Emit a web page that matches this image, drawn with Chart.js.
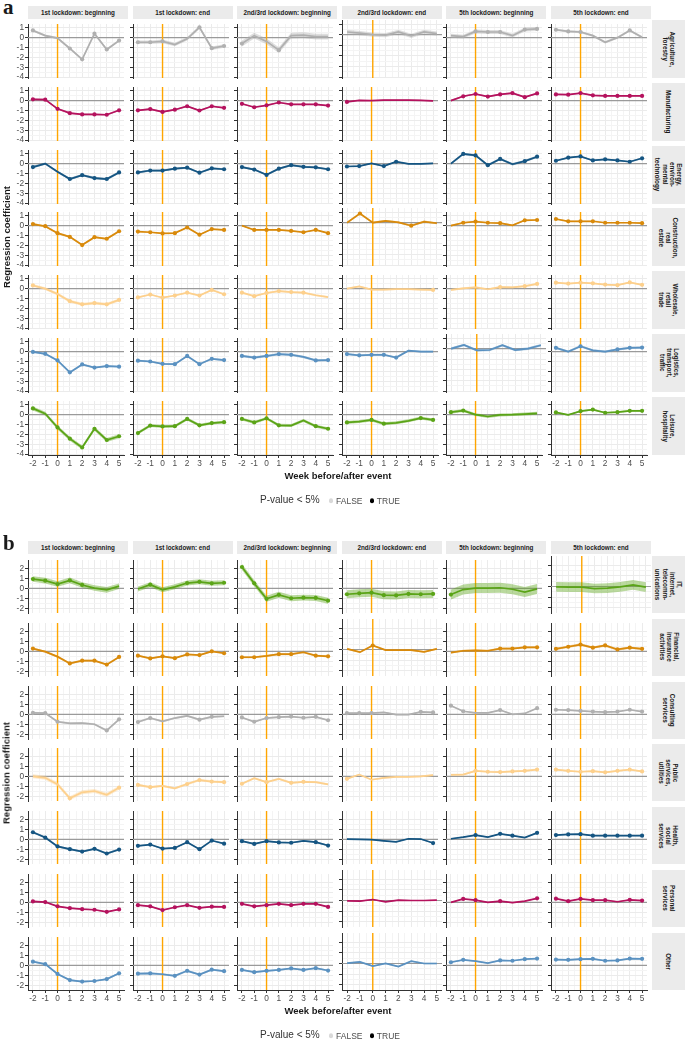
<!DOCTYPE html>
<html>
<head>
<meta charset="utf-8">
<script src="https://cdn.jsdelivr.net/npm/chart.js@4.4.1/dist/chart.umd.min.js"></script>
<style>
  body { margin: 0; background: #fff; font-family: "Liberation Sans", Arial, sans-serif; }
  #page { position: relative; width: 685px; height: 1043px; overflow: hidden; }
  .cell { position: absolute; }
  .strip { position: absolute; background: #ebebeb; color: #1a1a1a; font-size: 6.3px; font-weight: bold;
           display: flex; align-items: center; justify-content: center; text-align: center; line-height: 1.15; }
  .rstrip span { transform: rotate(90deg); white-space: nowrap; display: block; }
  .txt { position: absolute; white-space: nowrap; color: #1a1a1a; }
  .ytitle { font-weight: bold; font-size: 9.5px; transform: translate(-50%, -50%) rotate(-90deg); }
  .xtitle { font-weight: bold; font-size: 9.5px; transform: translate(-50%, -50%); }
  .tag { font-family: "Liberation Serif", "DejaVu Serif", serif; font-weight: bold; font-size: 21px; line-height: 1; }
  .legend { font-size: 10px; color: #333; transform: translateY(-50%); }
  .legend .dot { display: inline-block; width: 4.5px; height: 4.5px; border-radius: 50%; vertical-align: middle; }
  .legend .lab { font-size: 8.5px; color: #4d4d4d; vertical-align: middle; }
</style>
</head>
<body>
<div id="page"></div>
<script>
//==============================Data============================

const weeks = [-2, -1, 0, 1, 2, 3, 4, 5];
const periods = ["1st lockdown: beginning", "1st lockdown: end", "2nd/3rd lockdown: beginning",
                 "2nd/3rd lockdown: end", "5th lockdown: beginning", "5th lockdown: end"];
const yTicksA = [-4, -3, -2, -1, 0, 1];
const yTicksB = [-2, -1, 0, 1, 2];

// panel a, one row per sector, one line of 8 weeks per period
const agriculture = [
  [0.73, 0.2, -0.05, -1.1, -2.2, 0.4, -1.2, -0.3],
  [-0.47, -0.47, -0.38, -0.7, -0.12, 1.05, -1.07, -0.85],
  [-0.6, 0.2, -0.38, -1.27, 0.2, 0.25, 0.1, 0.1],
  [0.25, 0.15, 0.0, -0.05, 0.25, -0.12, 0.25, 0.1],
  [0.2, 0.1, 0.63, 0.57, 0.57, 0.2, 0.82, 0.88],
  [0.8, 0.63, 0.57, 0.2, -0.47, 0.0, 0.73, 0.03]];
const agricultureSig = ["10011111", "11100111", "10010000", "00000000", "00111011", "11100010"];
const agricultureCI = [0.12, 0.18, 0.3, 0.2, 0.2, 0.12];

const manufacturing = [
  [0.13, 0.1, -0.83, -1.27, -1.4, -1.4, -1.43, -0.98],
  [-0.98, -0.86, -1.14, -0.92, -0.57, -1.0, -0.57, -0.73],
  [-0.32, -0.67, -0.48, -0.19, -0.38, -0.38, -0.38, -0.5],
  [-0.13, 0.03, 0.0, 0.06, 0.06, 0.06, 0.03, -0.03],
  [0.0, 0.44, 0.67, 0.41, 0.63, 0.76, 0.35, 0.73],
  [0.63, 0.6, 0.76, 0.54, 0.48, 0.48, 0.48, 0.48]];
const manufacturingSig = ["11111111", "11111111", "11111111", "10000000", "01111111", "11111111"];
const manufacturingCI = [0.08, 0.08, 0.06, 0.05, 0.08, 0.06];

const energy = [
  [-0.35, 0.0, -0.83, -1.56, -1.17, -1.46, -1.56, -0.89],
  [-0.89, -0.7, -0.7, -0.51, -0.41, -0.92, -0.48, -0.57],
  [-0.35, -0.6, -1.14, -0.51, -0.16, -0.32, -0.38, -0.57],
  [-0.29, -0.25, 0.03, -0.25, 0.19, -0.03, -0.03, 0.03],
  [0.0, 0.98, 0.83, -0.16, 0.48, -0.06, 0.25, 0.7],
  [0.29, 0.6, 0.73, 0.32, 0.44, 0.32, 0.19, 0.54]];
const energySig = ["10011111", "11111111", "11111111", "11011000", "01111011", "11111111"];
const energyCI = [0.12, 0.1, 0.1, 0.06, 0.12, 0.08];

const construction = [
  [0.16, -0.06, -0.76, -1.14, -1.97, -1.17, -1.33, -0.57],
  [-0.6, -0.67, -0.79, -0.76, -0.19, -0.92, -0.35, -0.44],
  [0.0, -0.44, -0.44, -0.44, -0.54, -0.67, -0.44, -0.76],
  [0.0, 0.86, 0.0, 0.16, 0.03, -0.29, 0.1, -0.06],
  [0.0, 0.29, 0.41, 0.29, 0.25, 0.03, 0.54, 0.57],
  [0.67, 0.44, 0.44, 0.44, 0.29, 0.29, 0.29, 0.25]];
const constructionSig = ["11111111", "11111111", "01111111", "01000100", "01111011", "11111111"];
const constructionCI = [0.1, 0.06, 0.06, 0.1, 0.08, 0.06];

const wholesale = [
  [0.32, 0.0, -0.54, -1.27, -1.59, -1.46, -1.59, -1.14],
  [-0.89, -0.6, -0.92, -0.7, -0.41, -0.7, -0.13, -0.57],
  [-0.41, -0.76, -0.44, -0.25, -0.35, -0.41, -0.67, -0.86],
  [0.0, 0.22, -0.1, -0.1, -0.06, -0.06, -0.1, -0.13],
  [-0.13, 0.03, 0.13, -0.06, 0.16, 0.13, 0.25, 0.48],
  [0.6, 0.51, 0.6, 0.54, 0.41, 0.35, 0.63, 0.38]];
const wholesaleSig = ["10011111", "11111111", "11111100", "00000001", "00001011", "11111111"];
const wholesaleCI = [0.15, 0.08, 0.1, 0.08, 0.1, 0.08];

const logistics = [
  [-0.03, -0.22, -0.89, -2.1, -1.3, -1.62, -1.46, -1.52],
  [-0.92, -1.0, -1.24, -1.27, -0.44, -1.27, -0.73, -0.86],
  [-0.44, -0.6, -0.44, -0.25, -0.32, -0.54, -0.89, -0.86],
  [-0.25, -0.38, -0.32, -0.32, -0.6, 0.1, 0.0, 0.0],
  [0.0, 0.35, -0.16, -0.13, 0.32, -0.13, 0.0, 0.32],
  [0.38, 0.0, 0.54, 0.13, 0.0, 0.22, 0.38, 0.41]];
const logisticsSig = ["11111111", "11111111", "11111011", "11111000", "00000000", "10100111"];
const logisticsCI = [0.1, 0.1, 0.12, 0.1, 0.12, 0.12];

const leisure = [
  [0.63, 0.1, -1.3, -2.44, -3.33, -1.43, -2.57, -2.19],
  [-1.87, -1.11, -1.2, -1.17, -0.44, -1.08, -0.86, -0.76],
  [-0.44, -0.79, -0.38, -1.08, -1.11, -0.6, -1.17, -1.43],
  [-0.79, -0.7, -0.54, -0.92, -0.83, -0.63, -0.35, -0.54],
  [0.25, 0.41, 0.0, -0.19, -0.03, 0.0, 0.06, 0.13],
  [0.22, -0.03, 0.35, 0.51, 0.19, 0.25, 0.38, 0.38]];
const leisureSig = ["10111111", "11111111", "11110011", "10110011", "11000000", "10111111"];
const leisureCI = [0.2, 0.15, 0.15, 0.15, 0.15, 0.08];

// panel b
const itTelecom = [
  [0.93, 0.77, 0.43, 0.8, 0.34, 0.03, -0.15, 0.22],
  [-0.06, 0.37, -0.15, 0.15, 0.53, 0.65, 0.5, 0.56],
  [2.14, 0.5, -1.05, -0.65, -0.99, -0.93, -0.96, -1.24],
  [-0.59, -0.5, -0.43, -0.68, -0.71, -0.56, -0.59, -0.56],
  [-0.62, -0.12, 0.03, 0.03, 0.06, -0.09, -0.37, -0.06],
  [-0.03, -0.06, -0.06, -0.19, -0.15, -0.03, 0.15, -0.06]];
const itTelecomSig = ["11111000", "01001111", "11111111", "11111111", "10000000", "00000000"];
const itTelecomCI = [0.28, 0.25, 0.3, 0.4, 0.5, 0.45];

const financial = [
  [0.28, -0.03, -0.53, -1.21, -0.93, -0.93, -1.33, -0.56],
  [-0.43, -0.71, -0.5, -0.68, -0.31, -0.37, 0.0, -0.19],
  [-0.59, -0.59, -0.46, -0.28, -0.28, -0.09, -0.43, -0.5],
  [0.06, -0.25, 0.37, -0.06, -0.06, -0.06, -0.22, 0.06],
  [-0.12, 0.06, 0.09, 0.06, 0.28, 0.28, 0.4, 0.4],
  [0.25, 0.46, 0.68, 0.37, 0.59, 0.19, 0.37, 0.25]];
const financialSig = ["10011111", "11111111", "11011011", "00100000", "00001111", "11111111"];
const financialCI = [0.1, 0.08, 0.1, 0.08, 0.1, 0.12];

const consulting = [
  [0.15, 0.12, -0.74, -0.9, -0.87, -0.99, -1.61, -0.5],
  [-0.77, -0.37, -0.71, -0.37, -0.15, -0.53, -0.25, -0.19],
  [-0.31, -0.74, -0.37, -0.28, -0.22, -0.34, -0.25, -0.59],
  [0.12, 0.12, 0.12, 0.19, -0.03, -0.03, 0.25, 0.19],
  [0.87, 0.31, 0.15, 0.15, 0.43, 0.0, 0.09, 0.62],
  [0.46, 0.43, 0.34, 0.28, 0.22, 0.28, 0.46, 0.28]];
const consultingSig = ["11100011", "11000110", "11111111", "11100011", "11001001", "11111111"];
const consultingCI = [0.1, 0.1, 0.08, 0.06, 0.06, 0.06];

const publicServices = [
  [0.0, -0.15, -0.8, -2.2, -1.6, -1.47, -1.84, -1.13],
  [-0.86, -1.08, -0.95, -1.2, -0.77, -0.37, -0.52, -0.58],
  [-0.74, -0.18, -0.58, -0.25, -0.65, -0.55, -0.58, -0.8],
  [-0.25, 0.18, -0.34, -0.15, -0.06, -0.06, 0.0, 0.12],
  [0.15, 0.18, 0.55, 0.46, 0.43, 0.49, 0.55, 0.68],
  [0.68, 0.55, 0.46, 0.52, 0.4, 0.55, 0.68, 0.49]];
const publicServicesSig = ["00010001", "11001111", "10101100", "10000000", "00111111", "11111111"];
const publicServicesCI = [0.2, 0.12, 0.1, 0.08, 0.1, 0.08];

const health = [
  [0.71, 0.18, -0.71, -0.98, -1.23, -0.95, -1.42, -1.02],
  [-0.65, -0.52, -0.92, -0.86, -0.28, -0.98, -0.12, -0.43],
  [-0.18, -0.46, -0.18, -0.31, -0.34, -0.15, -0.28, -0.62],
  [0.03, 0.0, -0.03, -0.15, -0.25, 0.06, 0.03, -0.37],
  [0.06, 0.22, 0.43, 0.22, 0.55, 0.37, 0.18, 0.65],
  [0.43, 0.49, 0.52, 0.37, 0.37, 0.37, 0.37, 0.37]];
const healthSig = ["11111111", "11111111", "11111011", "00000001", "00101101", "11111111"];
const healthCI = [0.1, 0.06, 0.08, 0.06, 0.06, 0.06];

const personal = [
  [0.09, 0.03, -0.4, -0.58, -0.68, -0.74, -0.95, -0.71],
  [-0.28, -0.4, -0.77, -0.49, -0.28, -0.55, -0.43, -0.46],
  [-0.15, -0.4, -0.28, -0.15, -0.28, -0.15, -0.15, -0.46],
  [-0.03, -0.06, 0.09, -0.12, 0.03, 0.0, 0.0, 0.03],
  [0.0, 0.34, 0.22, 0.0, 0.12, -0.03, 0.12, 0.4],
  [0.37, 0.12, 0.34, 0.22, 0.22, 0.06, 0.25, 0.18]];
const personalSig = ["11111111", "11111111", "11111111", "00000000", "01101001", "11111011"];
const personalCI = [0.06, 0.06, 0.06, 0.05, 0.05, 0.05];

const other = [
  [0.37, 0.12, -0.86, -1.48, -1.63, -1.57, -1.38, -0.8],
  [-0.83, -0.8, -0.89, -1.05, -0.55, -0.92, -0.43, -0.58],
  [-0.46, -0.68, -0.55, -0.46, -0.31, -0.46, -0.28, -0.52],
  [0.03, 0.15, -0.25, 0.0, -0.28, 0.22, 0.0, 0.0],
  [0.31, 0.55, 0.43, 0.22, 0.49, 0.46, 0.62, 0.68],
  [0.58, 0.55, 0.62, 0.65, 0.46, 0.49, 0.68, 0.65]];
const otherSig = ["11111111", "11011111", "11111111", "00000000", "11001111", "11111111"];
const otherCI = [0.08, 0.1, 0.08, 0.06, 0.06, 0.08];

//==============================Colours============================

const GREY = "#b0b0b0", MAGENTA = "#b5125e", NAVY = "#155582", OCHRE = "#d98a0b",
      PEACH = "#fdd08c", STEEL = "#5b92c1", GREEN = "#5ba417";

const rowsA = [
  { label: "Agriculture,\nforestry", color: GREY, coef: agriculture, sig: agricultureSig, ci: agricultureCI },
  { label: "Manufacturing", color: MAGENTA, coef: manufacturing, sig: manufacturingSig, ci: manufacturingCI },
  { label: "Energy,\nenviron-\nmental\ntechnology", color: NAVY, coef: energy, sig: energySig, ci: energyCI },
  { label: "Construction,\nreal\nestate", color: OCHRE, coef: construction, sig: constructionSig, ci: constructionCI },
  { label: "Wholesale,\nretail\ntrade", color: PEACH, coef: wholesale, sig: wholesaleSig, ci: wholesaleCI },
  { label: "Logistics,\ntransport,\ntraffic", color: STEEL, coef: logistics, sig: logisticsSig, ci: logisticsCI },
  { label: "Leisure,\nhospitality", color: GREEN, coef: leisure, sig: leisureSig, ci: leisureCI }
];
const rowsB = [
  { label: "IT,\ninternet,\ntelecomm-\nunications", color: GREEN, coef: itTelecom, sig: itTelecomSig, ci: itTelecomCI },
  { label: "Financial,\ninsurance\nactivities", color: OCHRE, coef: financial, sig: financialSig, ci: financialCI },
  { label: "Consulting\nservices", color: GREY, coef: consulting, sig: consultingSig, ci: consultingCI },
  { label: "Public\nservices,\nutilities", color: PEACH, coef: publicServices, sig: publicServicesSig, ci: publicServicesCI },
  { label: "Health,\nsocial\nservices", color: NAVY, coef: health, sig: healthSig, ci: healthCI },
  { label: "Personal\nservices", color: MAGENTA, coef: personal, sig: personalSig, ci: personalCI },
  { label: "Other", color: STEEL, coef: other, sig: otherSig, ci: otherCI }
];

//==============================Layout============================

const page = document.getElementById("page");
const PADL = 22, PADB = 15, PLOT_W = 100, ROW_STEP = 62.83;
const colLeft = c => 28 + c * 104.6;

// majors plus the midpoints between them (minor grid)
const withHalves = arr => arr.flatMap((v, i) => i ? [(arr[i - 1] + v) / 2, v] : [v]);

function addDiv(cls, html, css) {
  const d = document.createElement("div");
  d.className = cls;
  d.innerHTML = html;
  Object.assign(d.style, css);
  page.appendChild(d);
  return d;
}

function alpha(hex, a) {
  const n = parseInt(hex.slice(1), 16);
  return `rgba(${n >> 16},${(n >> 8) & 255},${n & 255},${a})`;
}

const guides = {
  id: "guides",
  beforeDatasetsDraw(chart) {
    const { ctx, chartArea: a, scales: { x, y } } = chart;
    ctx.save();
    ctx.strokeStyle = "#9a9a9a";
    ctx.lineWidth = 1.1;
    const y0 = y.getPixelForValue(0);
    ctx.beginPath(); ctx.moveTo(a.left, y0); ctx.lineTo(a.right, y0); ctx.stroke();
    ctx.strokeStyle = "#ffa500";
    ctx.lineWidth = 1.4;
    const x0 = x.getPixelForValue(0);
    ctx.beginPath(); ctx.moveTo(x0, a.top); ctx.lineTo(x0, a.bottom); ctx.stroke();
    ctx.restore();
  }
};

const gridColor = ctx => Number.isInteger(ctx.tick.value) ? "#ebebeb" : "#f4f4f4";
const tickColor = ctx => Number.isInteger(ctx.tick.value) ? "#333333" : "rgba(0,0,0,0)";

function drawCell(row, c, top, plotH, yMin, yMax, yTicks, firstCol, lastRow) {
  const box = addDiv("cell", "", {
    left: (colLeft(c) - PADL) + "px", top: top + "px",
    width: (PLOT_W + PADL) + "px", height: (plotH + PADB) + "px"
  });
  const cv = document.createElement("canvas");
  box.appendChild(cv);

  const vals = row.coef[c];
  const ci = row.ci[c];
  const pts = (off) => vals.map((v, i) => ({ x: weeks[i], y: v + off }));
  const radius = row.sig[c].split("").map(s => s === "1" ? 2.1 : 0);

  new Chart(cv, {
    type: "line",
    data: {
      datasets: [
        { data: pts(ci), borderWidth: 0, pointRadius: 0, fill: "+1", backgroundColor: alpha(row.color, 0.42) },
        { data: pts(-ci), borderWidth: 0, pointRadius: 0, fill: false },
        { data: pts(0), borderColor: row.color, borderWidth: 1.7, fill: false,
          pointRadius: radius, pointBackgroundColor: row.color, pointBorderWidth: 0, tension: 0 }
      ]
    },
    options: {
      responsive: true,
      maintainAspectRatio: false,
      animation: false,
      events: [],
      layout: { padding: 0 },
      plugins: { legend: { display: false }, tooltip: { enabled: false } },
      scales: {
        x: {
          type: "linear", min: -2.4, max: 5.4,
          afterBuildTicks: s => { s.ticks = withHalves(weeks).map(v => ({ value: v })); },
          afterFit: s => { s.height = PADB; s.paddingLeft = 0; s.paddingRight = 0; },
          grid: { color: gridColor, lineWidth: 1, drawTicks: lastRow, tickLength: 3, tickColor: tickColor },
          border: { display: lastRow, color: "#333333", width: 1 },
          ticks: { display: lastRow, autoSkip: false, maxRotation: 0, padding: 1,
                   color: "#4d4d4d", font: { size: 8.3, family: "Liberation Sans" },
                   callback: v => Number.isInteger(v) ? String(v) : "" }
        },
        y: {
          type: "linear", min: yMin, max: yMax,
          afterBuildTicks: s => { s.ticks = withHalves(yTicks).map(v => ({ value: v })); },
          afterFit: s => { s.width = PADL; s.paddingTop = 0; s.paddingBottom = 0; },
          grid: { color: gridColor, lineWidth: 1, drawTicks: true, tickLength: 3, tickColor: tickColor },
          border: { display: true, color: "#333333", width: 1 },
          ticks: { display: firstCol, autoSkip: false, padding: 1,
                   color: "#4d4d4d", font: { size: 8.3, family: "Liberation Sans" },
                   callback: v => Number.isInteger(v) ? String(v) : "" }
        }
      }
    },
    plugins: [guides]
  });
}

function buildPanel(rows, cfg) {
  addDiv("txt tag", cfg.tag, { left: "3px", top: cfg.tagTop + "px" });

  periods.forEach((p, c) => {
    addDiv("strip", p, { left: colLeft(c) + "px", top: cfg.stripTop + "px", width: PLOT_W + "px", height: "13px" });
  });

  rows.forEach((row, r) => {
    const top = cfg.top + r * ROW_STEP;
    addDiv("strip rstrip", "<span>" + row.label.replace(/\n/g, "<br>") + "</span>",
           { left: "652px", top: top + "px", width: "33px", height: cfg.plotH + "px" });
    for (let c = 0; c < periods.length; c++) {
      drawCell(row, c, top, cfg.plotH, cfg.yMin, cfg.yMax, cfg.yTicks, c === 0, r === rows.length - 1);
    }
  });

  const bottom = cfg.top + (rows.length - 1) * ROW_STEP + cfg.plotH;
  addDiv("txt ytitle", "Regression coefficient", { left: "6px", top: ((cfg.top + bottom) / 2) + "px" });
  addDiv("txt xtitle", "Week before/after event", { left: "338px", top: (bottom + 20) + "px" });
  addDiv("txt legend",
    'P-value &lt; 5%<span style="display:inline-block;width:9px"></span>' +
    '<span class="dot" style="background:#d9d9d9"></span> <span class="lab">FALSE</span>' +
    '<span style="display:inline-block;width:7px"></span>' +
    '<span class="dot" style="background:#000"></span> <span class="lab">TRUE</span>',
    { left: "260px", top: (bottom + 45) + "px" });
}

buildPanel(rowsA, { tag: "a", tagTop: -3, stripTop: 6, top: 20, plotH: 58, yMin: -4.09, yMax: 1.38, yTicks: yTicksA });
buildPanel(rowsB, { tag: "b", tagTop: 533, stripTop: 541, top: 556, plotH: 57, yMin: -2.47, yMax: 2.84, yTicks: yTicksB });
</script>
</body>
</html>
